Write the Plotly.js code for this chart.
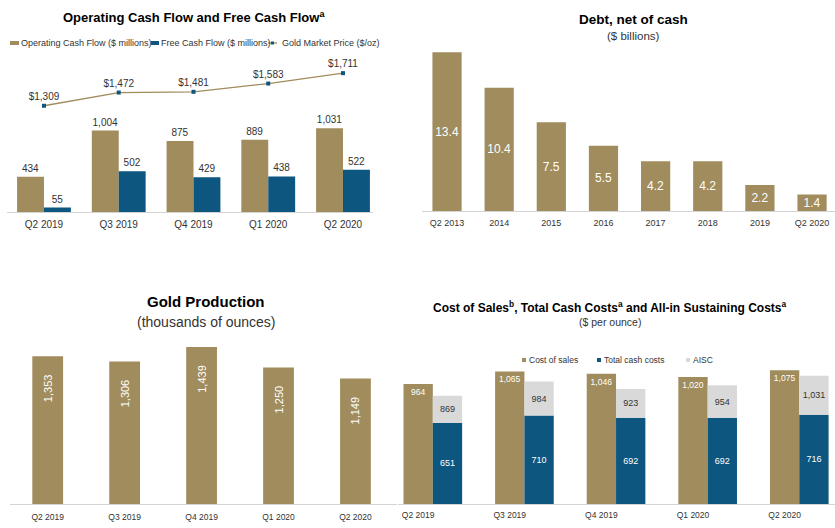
<!DOCTYPE html>
<html><head><meta charset="utf-8">
<script src="https://cdn.plot.ly/plotly-3.0.1.min.js"></script>
<style>html,body{margin:0;padding:0;background:#fff}#chart{width:835px;height:528px}</style>
</head><body><div id="chart"></div>
<script>
// ---- data ----
const quarters = ['Q2 2019','Q3 2019','Q4 2019','Q1 2020','Q2 2020'];
const operatingCashFlow = [434,1004,875,889,1031];
const freeCashFlow = [55,502,429,438,522];
const goldPrice = [1309,1472,1481,1583,1711];
const debtPeriods = ['Q2 2013','2014','2015','2016','2017','2018','2019','Q2 2020'];
const debtNetOfCash = [13.4,10.4,7.5,5.5,4.2,4.2,2.2,1.4];
const goldProduction = [1353,1306,1439,1250,1149];
const costOfSales = [964,1065,1046,1020,1075];
const totalCashCosts = [651,710,692,692,716];
const aisc = [869,984,923,954,1031];

// ---- styling ----
const W = 835, H = 528;
const px = x => x / W;
const py = y => 1 - y / H;
const FONT = 'Arial, "Liberation Sans", sans-serif';
const TAN = '#A08C5C';
const BLUE = '#0D5680';
const GRAY = '#D9D9D9';
const LINE = '#D4D4D4';
const TXT = '#333333';
const fmt = v => v.toLocaleString('en-US');

const traces = [
  // Panel 1
  {type:'bar', x:quarters, y:operatingCashFlow, xaxis:'x', yaxis:'y', name:'Operating Cash Flow ($ millions)',
   marker:{color:TAN}, width:0.36, offset:-0.36, text:operatingCashFlow.map(fmt), textposition:'outside',
   textfont:{size:10, color:TXT, family:FONT}, cliponaxis:false, hoverinfo:'skip'},
  {type:'bar', x:quarters, y:freeCashFlow, xaxis:'x', yaxis:'y', name:'Free Cash Flow ($ millions)',
   marker:{color:BLUE}, width:0.36, offset:0, text:freeCashFlow.map(fmt), textposition:'outside',
   textfont:{size:10, color:TXT, family:FONT}, cliponaxis:false, hoverinfo:'skip'},
  {type:'scatter', mode:'lines+markers+text', x:quarters, y:goldPrice, xaxis:'x', yaxis:'y', name:'Gold Market Price ($/oz)',
   line:{color:TAN, width:1.3}, marker:{color:BLUE, size:4, symbol:'square'},
   text:goldPrice.map(v=>'$'+fmt(v)), textposition:'top center',
   textfont:{size:10, color:TXT, family:FONT}, cliponaxis:false, hoverinfo:'skip'},
  // Panel 2
  {type:'bar', x:debtPeriods, y:debtNetOfCash, xaxis:'x2', yaxis:'y2', name:'Debt, net of cash',
   marker:{color:TAN}, width:0.56, text:debtNetOfCash.map(v=>v.toFixed(1)), textposition:'inside',
   insidetextanchor:'middle', constraintext:'none', textangle:0,
   textfont:{size:12, color:'#FFFFFF', family:FONT}, hoverinfo:'skip'},
  // Panel 3
  {type:'bar', x:quarters, y:goldProduction, xaxis:'x3', yaxis:'y3', name:'Gold Production',
   marker:{color:TAN}, width:0.4, text:goldProduction.map(fmt), texttemplate:'%{text}\u00a0\u00a0\u00a0\u00a0\u00a0',
   textposition:'inside', insidetextanchor:'end', constraintext:'none', textangle:-90,
   textfont:{size:11, color:'#FFFFFF', family:FONT}, hoverinfo:'skip'},
  // Panel 4
  {type:'bar', x:quarters, y:costOfSales, xaxis:'x4', yaxis:'y4', name:'Cost of sales',
   marker:{color:TAN}, width:0.32, offset:-0.16, text:costOfSales.map(fmt), textposition:'inside',
   insidetextanchor:'end', constraintext:'none', textangle:0,
   textfont:{size:8.5, color:'#FFFFFF', family:FONT}, hoverinfo:'skip'},
  {type:'bar', x:quarters, y:totalCashCosts, xaxis:'x4', yaxis:'y4', name:'Total cash costs',
   marker:{color:BLUE}, width:0.32, offset:0.16, text:totalCashCosts.map(fmt), textposition:'inside',
   insidetextanchor:'middle', constraintext:'none', textangle:0,
   textfont:{size:9, color:'#FFFFFF', family:FONT}, hoverinfo:'skip'},
  {type:'bar', x:quarters, y:aisc.map((v,i)=>v-totalCashCosts[i]), base:totalCashCosts, xaxis:'x4', yaxis:'y4', name:'AISC',
   marker:{color:GRAY}, width:0.32, offset:0.16, text:aisc.map(fmt), textposition:'inside',
   insidetextanchor:'middle', constraintext:'none', textangle:0,
   textfont:{size:9, color:TXT, family:FONT}, hoverinfo:'skip'}
];

function xax(domL, domR, range, size, standoff){
  return {domain:[px(domL), px(domR)], range:range, type:'category', showgrid:false, zeroline:false,
    showline:true, linecolor:LINE, linewidth:1, ticks:'', fixedrange:true,
    tickfont:{size:size, color:TXT, family:FONT}, ticklabelstandoff:standoff};
}
function yax(bottom, top, range){
  return {domain:[py(bottom), py(top)], range:range, visible:false, showgrid:false, zeroline:false, fixedrange:true};
}

const ann = (text, x, y, size, opts={}) => Object.assign({text:text, x:px(x), y:py(y), xref:'paper', yref:'paper',
  showarrow:false, xanchor:'center', yanchor:'middle', font:{size:size, color:'#000', family:FONT}}, opts);

const annotations = [
  ann('<b>Operating Cash Flow and Free Cash Flow<sup>a</sup></b>', 194, 17, 13),
  ann('<b>Debt, net of cash</b>', 633, 20, 13.5),
  ann('($ billions)', 633, 36, 11.5, {font:{size:11.5, color:TXT, family:FONT}}),
  ann('<b>Gold Production</b>', 206, 301, 15),
  ann('(thousands of ounces)', 206, 322, 14, {font:{size:14, color:TXT, family:FONT}}),
  ann('<b>Cost of Sales<sup>b</sup>, Total Cash Costs<sup>a</sup> and All-in Sustaining Costs<sup>a</sup></b>', 610, 307, 12),
  ann('($ per ounce)', 610, 322, 10.5, {font:{size:10.5, color:TXT, family:FONT}}),
  // legends
  ann('Operating Cash Flow ($ millions)', 19.5, 43, 9, {xanchor:'left', font:{size:9, color:TXT, family:FONT}}),
  ann('Free Cash Flow ($ millions)', 159.5, 43, 9, {xanchor:'left', font:{size:9, color:TXT, family:FONT}}),
  ann('Gold Market Price ($/oz)', 280.5, 43, 9, {xanchor:'left', font:{size:9, color:TXT, family:FONT}}),
  ann('Cost of sales', 527.5, 360, 8.5, {xanchor:'left', font:{size:8.5, color:TXT, family:FONT}}),
  ann('Total cash costs', 602.5, 360, 8.5, {xanchor:'left', font:{size:8.5, color:TXT, family:FONT}}),
  ann('AISC', 691.5, 360, 8.5, {xanchor:'left', font:{size:8.5, color:TXT, family:FONT}})
];
annotations.forEach(a => { a.xshift = 0; a.borderpad = 0; a.xanchor === 'left' && (a.x = a.x); });

const rect = (x0,x1,y0,y1,color) => ({type:'rect', xref:'paper', yref:'paper', x0:px(x0), x1:px(x1), y0:py(y1), y1:py(y0),
  line:{width:0}, fillcolor:color});
const shapes = [
  rect(10,19,41,45,TAN),
  rect(151,159,41,45,BLUE),
  {type:'line', xref:'paper', yref:'paper', x0:px(268), x1:px(277), y0:py(43), y1:py(43), line:{color:TAN, width:1.3}},
  rect(271,274,41.5,44.5,BLUE),
  rect(522,526,358,362,TAN),
  rect(597,601,358,362,BLUE),
  rect(686,690,358,362,GRAY)
];

const layout = {
  width:W, height:H, margin:{l:0,r:0,t:0,b:0,pad:0}, paper_bgcolor:'#FFFFFF', plot_bgcolor:'rgba(0,0,0,0)',
  barmode:'overlay', showlegend:false, font:{family:FONT, color:TXT},
  xaxis: xax(6.6, 372.9, [-0.5, 4.4], 10, 3),
  yaxis: yax(212, 57.8, [0, 1900]),
  xaxis2: xax(422, 835, [-0.48, 7.44], 9, 3),
  yaxis2: yax(211, 39.3, [0, 14.5]),
  xaxis3: xax(10, 397, [-0.49, 4.54], 8.5, 5),
  yaxis3: yax(504, 329.4, [0, 1600]),
  xaxis4: xax(398, 835, [-0.22, 4.55], 8.5, 3),
  yaxis4: yax(504, 348.4, [0, 1250]),
  annotations: annotations,
  shapes: shapes
};
layout.xaxis.anchor='y'; layout.xaxis2.anchor='y2'; layout.xaxis3.anchor='y3'; layout.xaxis4.anchor='y4';
layout.yaxis.anchor='x'; layout.yaxis2.anchor='x2'; layout.yaxis3.anchor='x3'; layout.yaxis4.anchor='x4';

Plotly.newPlot('chart', traces, layout, {displayModeBar:false, staticPlot:true});
</script>
</body></html>
